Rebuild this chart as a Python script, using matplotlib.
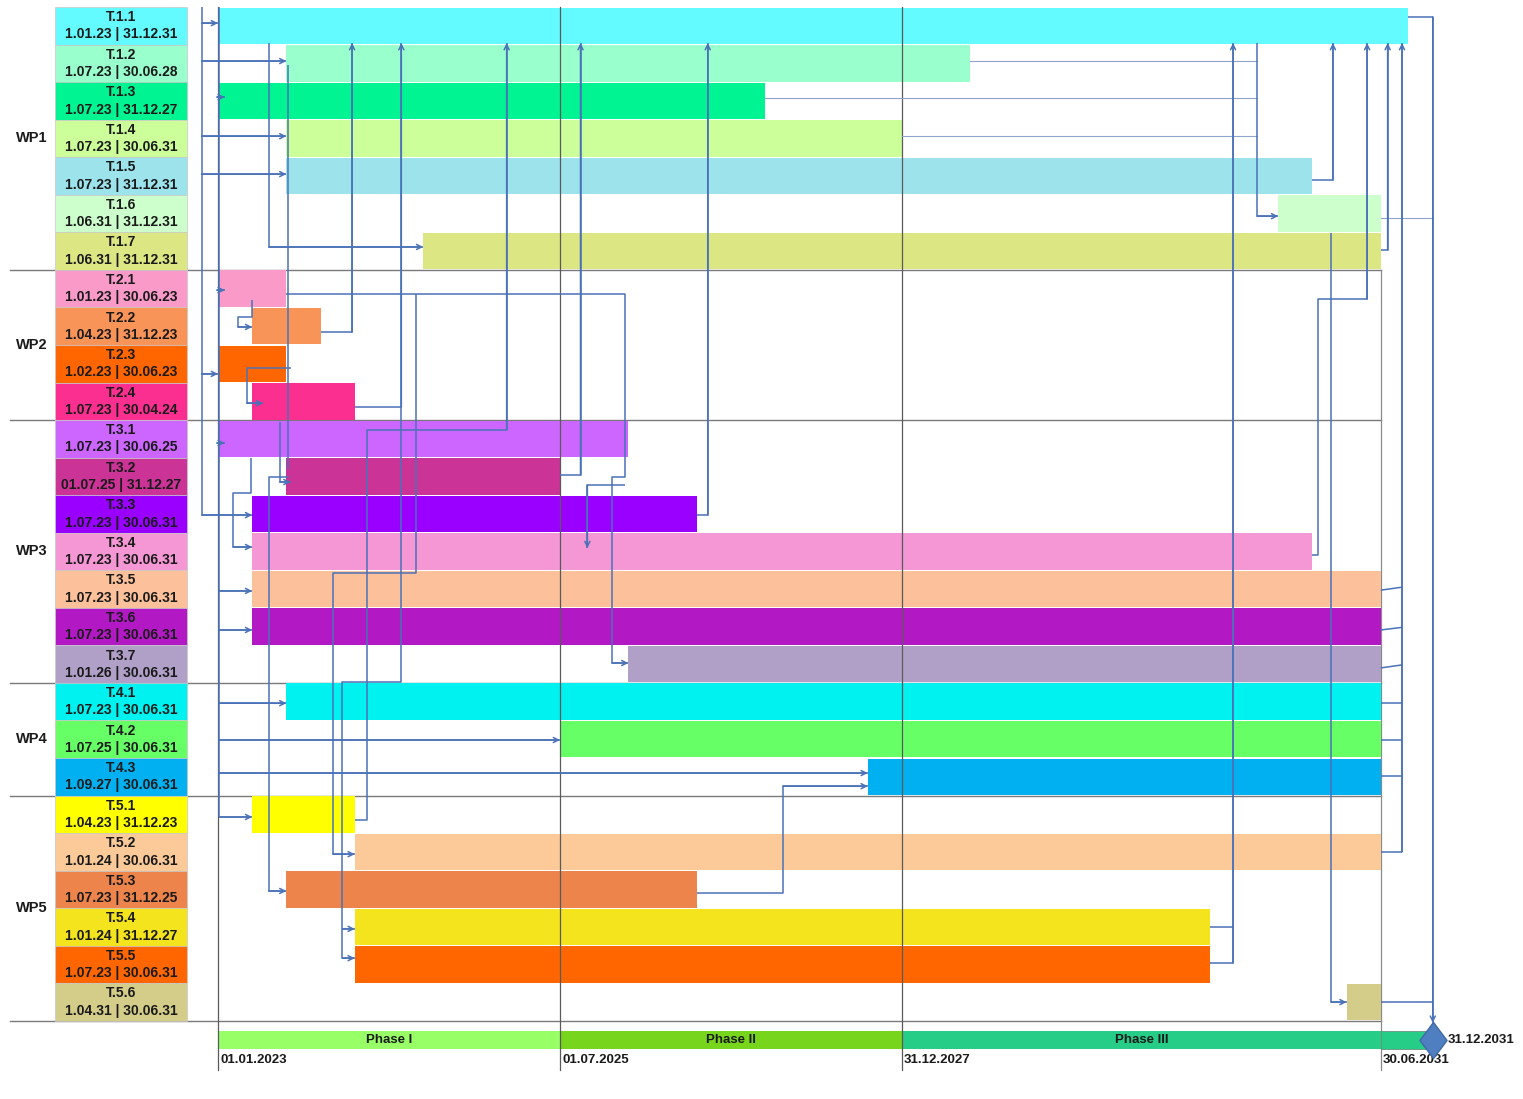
import matplotlib.pyplot as plt
from matplotlib.patches import Rectangle
from matplotlib.path import Path

plt.rcParams["font.family"] = ["Liberation Sans", "DejaVu Sans"]

# tasks, label dates and bar extents (years, as drawn in the chart)
tasks = ["T.1.1", "T.1.2", "T.1.3", "T.1.4", "T.1.5", "T.1.6", "T.1.7",
         "T.2.1", "T.2.2", "T.2.3", "T.2.4",
         "T.3.1", "T.3.2", "T.3.3", "T.3.4", "T.3.5", "T.3.6", "T.3.7",
         "T.4.1", "T.4.2", "T.4.3",
         "T.5.1", "T.5.2", "T.5.3", "T.5.4", "T.5.5", "T.5.6"]
start_txt = ["1.01.23", "1.07.23", "1.07.23", "1.07.23", "1.07.23", "1.06.31", "1.06.31",
             "1.01.23", "1.04.23", "1.02.23", "1.07.23",
             "1.07.23", "01.07.25", "1.07.23", "1.07.23", "1.07.23", "1.07.23", "1.01.26",
             "1.07.23", "1.07.25", "1.09.27",
             "1.04.23", "1.01.24", "1.07.23", "1.01.24", "1.07.23", "1.04.31"]
end_txt = ["31.12.31", "30.06.28", "31.12.27", "30.06.31", "31.12.31", "31.12.31", "31.12.31",
           "30.06.23", "31.12.23", "30.06.23", "30.04.24",
           "30.06.25", "31.12.27", "30.06.31", "30.06.31", "30.06.31", "30.06.31", "30.06.31",
           "30.06.31", "30.06.31", "30.06.31",
           "31.12.23", "30.06.31", "31.12.25", "31.12.27", "30.06.31", "30.06.31"]
bar_start = [2023.0, 2023.5, 2023.0, 2023.5, 2023.5, 2030.75, 2024.5,
             2023.0, 2023.25, 2023.0, 2023.25,
             2023.0, 2023.5, 2023.25, 2023.25, 2023.25, 2023.25, 2026.0,
             2023.5, 2025.5, 2027.75,
             2023.25, 2024.0, 2023.5, 2024.0, 2024.0, 2031.25]
bar_end = [2031.7, 2028.5, 2027.0, 2028.0, 2031.0, 2031.5, 2031.5,
           2023.5, 2023.75, 2023.5, 2024.0,
           2026.0, 2025.5, 2026.5, 2031.0, 2031.5, 2031.5, 2031.5,
           2031.5, 2031.5, 2031.5,
           2024.0, 2031.5, 2026.5, 2030.25, 2030.25, 2031.5]
colors = ["#63FBFF", "#99FFCC", "#00F592", "#CCFF99", "#9DE3EC", "#CCFFCC", "#DCE682",
          "#F99AC9", "#F99459", "#FF6600", "#FB2F8F",
          "#CC66FF", "#CB3396", "#9900FF", "#F497D4", "#FCC19A", "#B219C4", "#B0A0C8",
          "#00F2F0", "#66FF66", "#00B0F0",
          "#FFFF00", "#FBCA98", "#EC844C", "#F3E41E", "#FF6600", "#D4CD8A"]

wp_names = ["WP1", "WP2", "WP3", "WP4", "WP5"]
wp_sizes = [7, 4, 7, 3, 6]

phase_names = ["Phase I", "Phase II", "Phase III"]
phase_start = [2023.0, 2025.5, 2028.0]
phase_end = [2025.5, 2028.0, 2031.5]
phase_colors = ["#99FF66", "#77D61C", "#26CD86"]
date_ticks = [2023.0, 2025.5, 2028.0, 2031.5]
date_labels = ["01.01.2023", "01.07.2025", "31.12.2027", "30.06.2031"]
milestone_x = 2031.88
milestone_label = "31.12.2031"

# dependency links: waypoints (year, row), arrow at the end or not
links = [
    ([(2022.88, 0.0), (2022.88, 13.53)], False),
    ([(2022.88, 0.43), (2023.0, 0.43)], True),
    ([(2022.88, 1.44), (2023.5, 1.44)], True),
    ([(2022.88, 3.44), (2023.5, 3.44)], True),
    ([(2022.88, 4.45), (2023.5, 4.45)], True),
    ([(2022.88, 9.77), (2023.0, 9.77)], True),
    ([(2022.88, 13.53), (2023.25, 13.53)], True),
    ([(2023.01, 0.0), (2023.01, 21.57)], False),
    ([(2022.99, 2.4), (2023.05, 2.4)], True),
    ([(2022.99, 7.54), (2023.05, 7.54)], True),
    ([(2022.99, 11.61), (2023.05, 11.61)], True),
    ([(2023.01, 15.55), (2023.25, 15.55)], True),
    ([(2023.01, 16.59), (2023.25, 16.59)], True),
    ([(2023.01, 18.54), (2023.5, 18.54)], True),
    ([(2023.01, 19.52), (2025.5, 19.52)], True),
    ([(2023.01, 20.40), (2027.75, 20.40)], True),
    ([(2023.01, 21.57), (2023.25, 21.57)], True),
    ([(2023.37, 0.96), (2023.37, 6.39), (2024.5, 6.39)], True),
    ([(2023.51, 1.54), (2023.51, 12.3)], False),
    ([(2023.45, 11.05), (2023.45, 12.65), (2023.53, 12.65)], True),
    ([(2023.52, 12.52), (2023.37, 12.52), (2023.37, 23.54), (2023.5, 23.54)], True),
    ([(2023.75, 8.66), (2023.98, 8.66), (2023.98, 0.96)], True),
    ([(2024.0, 10.65), (2024.34, 10.65), (2024.34, 0.96)], True),
    ([(2024.34, 10.65), (2024.34, 17.98), (2023.91, 17.98), (2023.91, 25.33), (2024.0, 25.33)], True),
    ([(2023.91, 24.55), (2024.0, 24.55)], True),
    ([(2024.0, 21.65), (2024.09, 21.65), (2024.09, 11.26), (2025.11, 11.26), (2025.11, 0.96)], True),
    ([(2025.5, 12.46), (2025.65, 12.46), (2025.65, 0.96)], True),
    ([(2026.5, 13.53), (2026.58, 13.53), (2026.58, 0.96)], True),
    ([(2030.25, 24.5), (2030.42, 24.5)], False),
    ([(2030.25, 25.46), (2030.42, 25.46), (2030.42, 0.96)], True),
    ([(2031.0, 14.59), (2031.04, 14.59), (2031.04, 7.78), (2031.40, 7.78), (2031.40, 0.96)], True),
    ([(2031.0, 4.61), (2031.15, 4.61), (2031.15, 0.96)], True),
    ([(2031.5, 6.47), (2031.55, 6.47), (2031.55, 0.96)], True),
    ([(2031.655, 22.5), (2031.655, 0.96)], True),
    ([(2031.5, 15.53), (2031.655, 15.45)], False),
    ([(2031.5, 16.59), (2031.655, 16.52)], False),
    ([(2031.5, 17.60), (2031.655, 17.52)], False),
    ([(2031.5, 18.54), (2031.655, 18.54)], False),
    ([(2031.5, 19.52), (2031.655, 19.52)], False),
    ([(2031.5, 20.48), (2031.655, 20.48)], False),
    ([(2031.5, 22.5), (2031.655, 22.5)], False),
    ([(2030.595, 0.96), (2030.595, 5.57), (2030.75, 5.57)], True),
    ([(2031.136, 6.02), (2031.136, 26.5), (2031.25, 26.5)], True),
    ([(2031.70, 0.27), (2031.88, 0.27), (2031.88, 27.05)], True),
    ([(2031.5, 26.5), (2031.88, 26.5)], False),
    ([(2023.5, 7.64), (2025.975, 7.64), (2025.975, 12.52), (2025.88, 12.52),
      (2025.88, 17.47), (2026.0, 17.47)], True),
    ([(2025.975, 12.73), (2025.70, 12.73), (2025.70, 14.41)], True),
    ([(2024.45, 7.64), (2024.45, 15.07), (2023.84, 15.07), (2023.84, 22.56), (2024.0, 22.56)], True),
    ([(2026.5, 23.6), (2027.13, 23.6), (2027.13, 20.75), (2027.75, 20.75)], True),
    ([(2023.25, 7.8), (2023.25, 8.26), (2023.146, 8.26), (2023.146, 8.52), (2023.25, 8.52)], True),
    ([(2023.53, 9.61), (2023.21, 9.61), (2023.21, 10.55), (2023.33, 10.55)], True),
    ([(2023.24, 12.0), (2023.24, 12.94), (2023.11, 12.94), (2023.11, 14.38), (2023.25, 14.38)], True),
]
thin_links = [
    [(2028.5, 1.44), (2030.595, 1.44)],
    [(2027.0, 2.42), (2030.595, 2.42)],
    [(2028.0, 3.44), (2030.595, 3.44)],
    [(2031.5, 5.62), (2031.88, 5.62)],
]

LINK = "#4A72B8"
GRID = "#5a5a5a"
TXT = "#1a1a1a"

# diamond a bit taller than wide, like the milestone in the source
DIAMOND = Path([(0, 1), (0.75, 0), (0, -1), (-0.75, 0), (0, 1)],
               [Path.MOVETO, Path.LINETO, Path.LINETO, Path.LINETO, Path.CLOSEPOLY])


def draw():
    fig = plt.figure(figsize=(15.23, 10.99), dpi=100)
    ax = fig.add_axes([0, 0, 1, 1])
    ax.set_xlim(2021.4064, 2032.5395)
    ax.set_ylim(29.08, -0.1864)
    ax.axis("off")

    n = len(tasks)
    rows = list(range(n))

    # bars
    ax.barh([r + 0.5 for r in rows], [e - s for s, e in zip(bar_start, bar_end)],
            left=bar_start, height=0.97, color=colors, linewidth=0, zorder=2)

    # left label cells
    cx0, cx1 = 2021.808, 2022.773
    for r in rows:
        ax.add_patch(Rectangle((cx0, r), cx1 - cx0, 1, facecolor=colors[r],
                               edgecolor="#c8c8c8", linewidth=0.5, zorder=2))
        xm = (cx0 + cx1) / 2
        ax.text(xm, r + 0.27, tasks[r], ha="center", va="center",
                fontsize=10, fontweight="bold", color=TXT, zorder=3)
        ax.text(xm, r + 0.73, f"{start_txt[r]} | {end_txt[r]}", ha="center", va="center",
                fontsize=10, fontweight="bold", color=TXT, zorder=3)

    # work packages
    top = 0
    for name, size in zip(wp_names, wp_sizes):
        ax.text(2021.64, top + size / 2, name, ha="center", va="center",
                fontsize=10.5, fontweight="bold", color=TXT)
        top += size
        ax.plot([2021.48, 2031.5], [top, top], color="#7a7a7a", lw=1.0, zorder=1)

    # vertical grid / phase boundaries
    for x in date_ticks[:3]:
        ax.plot([x, x], [0, 28.3], color=GRID, lw=0.9, zorder=3)
    ax.plot([date_ticks[3]] * 2, [7, 28.3], color="#8a8a8a", lw=0.9, zorder=1)

    # links
    for pts in thin_links:
        xs, ys = zip(*pts)
        ax.plot(xs, ys, color="#8fa4cc", lw=0.8, zorder=4)
    for pts, arrow in links:
        xs, ys = zip(*pts)
        ax.plot(xs, ys, color=LINK, lw=1.1, zorder=4, solid_capstyle="butt")
        if arrow:
            ax.annotate("", xy=pts[-1], xytext=pts[-2], zorder=5,
                        arrowprops=dict(arrowstyle="->", color=LINK, lw=1.1,
                                        mutation_scale=9, shrinkA=0, shrinkB=0))

    # phases
    for name, s, e, c in zip(phase_names, phase_start, phase_end, phase_colors):
        ax.add_patch(Rectangle((s, 27.27), e - s, 0.48, facecolor=c, edgecolor="none", zorder=2))
        ax.text((s + e) / 2, 27.51, name, ha="center", va="center",
                fontsize=9.5, fontweight="bold", color=TXT, zorder=3)
    ax.add_patch(Rectangle((phase_end[-1], 27.27), milestone_x - phase_end[-1], 0.48,
                           facecolor=phase_colors[-1], edgecolor="#6b8f80", linewidth=0.6, zorder=2))
    for x, lab in zip(date_ticks, date_labels):
        ax.text(x + 0.015, 28.04, lab, ha="left", va="center",
                fontsize=9.5, fontweight="bold", color=TXT)

    ax.plot([milestone_x], [27.51], marker=DIAMOND, markersize=26, color="#4F7FC0",
            markeredgecolor="#3f6aa8", zorder=6)
    ax.text(milestone_x + 0.11, 27.51, milestone_label, ha="left", va="center",
            fontsize=9.5, fontweight="bold", color=TXT)

    fig.savefig("out.png", dpi=100)


if __name__ == "__main__":
    draw()
